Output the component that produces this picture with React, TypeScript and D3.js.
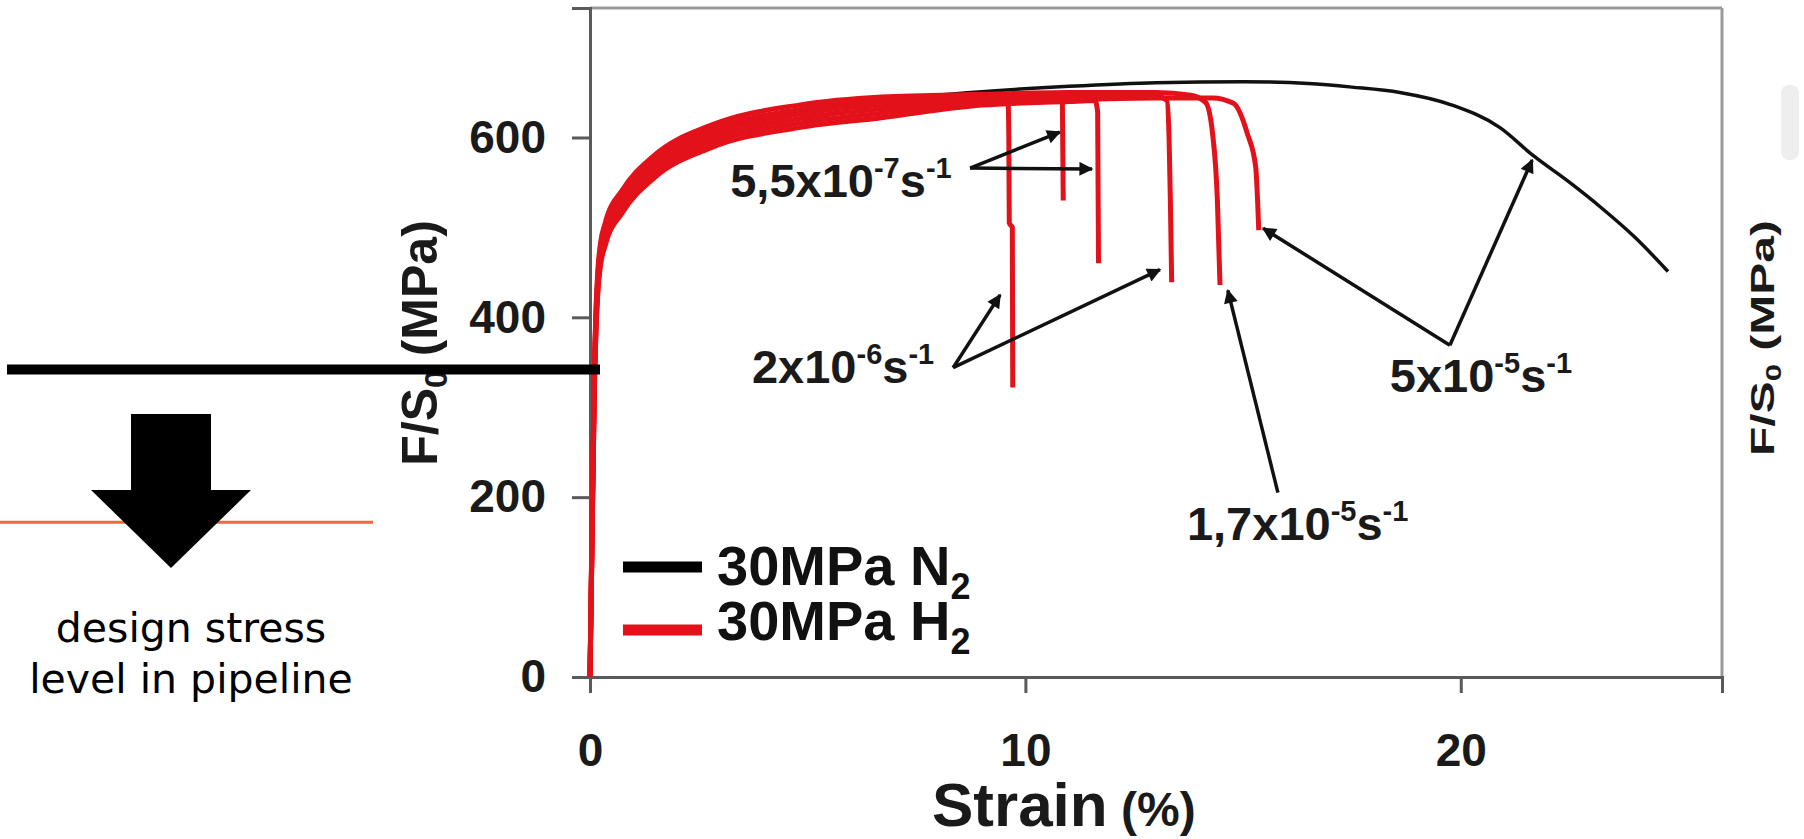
import { useRef, useEffect } from "react";
import * as d3 from "d3";

const WIDTH = 1804;
const HEIGHT = 839;
const RED = "#e3121a";
const FONT = "'Liberation Sans', Arial, Helvetica, sans-serif";

const strainTicks = [0, 10, 20];
const stressTicks = [0, 200, 400, 600];

// [strain %, F/S0 MPa]
const n2Curve = [
  [0, 0], [0.05, 176], [0.1, 336], [0.14, 406], [0.18, 446], [0.24, 476], [0.35, 499],
  [0.75, 536], [1.45, 573], [2.8, 607], [4.8, 629], [6.7, 641], [9, 651], [11, 657],
  [13, 661], [15, 662], [16.5, 660], [17.5, 656], [18.6, 650], [19.8, 636], [20.9, 611],
  [21.66, 580], [22.5, 550], [23.2, 523], [24, 489], [24.76, 451],
];

const h2Run1 = [
  [0, 0], [0.05, 167], [0.1, 327], [0.14, 397], [0.18, 437], [0.24, 467], [0.35, 490],
  [0.75, 527], [1.45, 564], [2.8, 599], [4.8, 621], [6.7, 632], [9, 641], [9.6, 643],
  [9.62, 600], [9.63, 505], [9.7, 500], [9.71, 322],
];
const h2Run2 = [
  [0, 0], [0.05, 177], [0.1, 337], [0.14, 407], [0.18, 447], [0.24, 477], [0.35, 500],
  [0.75, 537], [1.45, 574], [2.8, 609], [4.8, 631], [6.7, 641], [9, 646], [10.8, 648],
  [10.85, 638], [10.87, 530],
];
const h2Run3 = [
  [0, 0], [0.05, 157], [0.1, 317], [0.14, 387], [0.18, 427], [0.24, 457], [0.35, 480],
  [0.75, 517], [1.45, 554], [2.8, 589], [4.8, 611], [6.7, 622], [9, 636], [11, 640],
  [11.6, 641], [11.66, 628], [11.68, 460],
];
const h2Run4 = [
  [0, 0], [0.05, 172], [0.1, 332], [0.14, 402], [0.18, 442], [0.24, 472], [0.35, 495],
  [0.75, 532], [1.45, 569], [2.8, 604], [4.8, 626], [6.7, 637], [9, 643], [11, 645],
  [13, 646], [13.25, 641], [13.3, 600], [13.33, 530], [13.36, 439],
];
const h2Run5 = [
  [0, 0], [0.05, 182], [0.1, 342], [0.14, 412], [0.18, 452], [0.24, 482], [0.35, 505],
  [0.75, 542], [1.45, 579], [2.8, 614], [4.8, 636], [6.7, 645], [9, 648], [11, 650],
  [13, 650], [13.8, 647], [14.14, 639], [14.3, 604], [14.41, 530], [14.47, 436],
];
const h2Run6 = [
  [0, 0], [0.05, 162], [0.1, 322], [0.14, 392], [0.18, 432], [0.24, 462], [0.35, 485],
  [0.75, 522], [1.45, 559], [2.8, 594], [4.8, 616], [6.7, 627], [9, 639], [11, 642],
  [13, 644], [14.3, 644], [14.78, 638], [15.1, 604], [15.29, 567], [15.36, 497],
];
const h2Runs = [h2Run1, h2Run2, h2Run3, h2Run4, h2Run5, h2Run6];

// strain-rate annotations
const rateMantissas = ["5,5x10", "2x10", "1,7x10", "5x10"];
const rateExponents = ["-7", "-6", "-5", "-5"];
const rateLabelAt = [[3.22, 534], [3.72, 327], [13.71, 152], [18.37, 317]];
const rateArrowFrom = [[8.73, 566], [8.34, 344], [15.8, 205], [19.75, 369]];
const rateArrowTo = [
  [[10.79, 606], [11.53, 565]],
  [[9.42, 425], [13.09, 453]],
  [[14.65, 430]],
  [[21.64, 575], [15.46, 499]],
];

const legendLabels = ["30MPa N", "30MPa H"];
const legendColors = ["#000", RED];

const designStress = 342;
const pipelineLevel = 172;

const StressStrainChart = () => {
  const svgRef = useRef(null);

  useEffect(() => {
    const svg = d3.select(svgRef.current);
    svg.selectAll("*").remove();

    const x = d3.scaleLinear().domain([0, 26]).range([590, 1722]);
    const y = d3.scaleLinear().domain([0, 744]).range([677, 8]);

    svg
      .append("defs")
      .append("marker")
      .attr("id", "head")
      .attr("viewBox", "0 0 10 10")
      .attr("refX", 9)
      .attr("refY", 5)
      .attr("markerUnits", "userSpaceOnUse")
      .attr("markerWidth", 20)
      .attr("markerHeight", 14)
      .attr("orient", "auto")
      .append("path")
      .attr("d", "M0,0L10,5L0,10z")
      .attr("fill", "#111");

    // faint mark of the neighbouring panel
    svg.append("rect")
      .attr("x", 1781).attr("y", 85).attr("width", 18).attr("height", 75)
      .attr("rx", 8).attr("fill", "#eeeeee");

    // frame
    svg.append("line").attr("x1", x(0)).attr("x2", x(26)).attr("y1", y(744)).attr("y2", y(744))
      .attr("stroke", "#9a9a9a").attr("stroke-width", 3);
    svg.append("line").attr("x1", x(26)).attr("x2", x(26)).attr("y1", y(744)).attr("y2", y(0))
      .attr("stroke", "#9a9a9a").attr("stroke-width", 3);

    const yAxis = svg
      .append("g")
      .attr("transform", `translate(${x(0)},0)`)
      .call(d3.axisLeft(y).tickValues(stressTicks).tickSize(18).tickPadding(26));
    const xAxis = svg
      .append("g")
      .attr("transform", `translate(0,${y(0)})`)
      .call(d3.axisBottom(x).tickValues(strainTicks).tickSize(16).tickPadding(40));

    [yAxis, xAxis].forEach((ax) => {
      ax.select(".domain").attr("stroke", "#5a5a5a").attr("stroke-width", 3);
      ax.selectAll(".tick line").attr("stroke", "#5a5a5a").attr("stroke-width", 3);
      ax.selectAll("text")
        .style("font-family", FONT)
        .style("font-weight", "bold")
        .style("font-size", "46px")
        .style("fill", "#1a1a1a");
    });

    // curves
    const line = d3
      .line()
      .x((d) => x(d[0]))
      .y((d) => y(d[1]))
      .curve(d3.curveMonotoneX);

    svg.append("path")
      .datum(n2Curve)
      .attr("fill", "none")
      .attr("stroke", "#111")
      .attr("stroke-width", 3.5)
      .attr("d", line);

    svg.selectAll(".h2")
      .data(h2Runs)
      .enter()
      .append("path")
      .attr("class", "h2")
      .attr("fill", "none")
      .attr("stroke", RED)
      .attr("stroke-width", 5)
      .attr("d", line);

    // rate annotations
    rateMantissas.forEach((m, i) => {
      const t = svg
        .append("text")
        .attr("x", x(rateLabelAt[i][0]))
        .attr("y", y(rateLabelAt[i][1]))
        .style("font-family", FONT)
        .style("font-weight", "bold")
        .style("font-size", "47px")
        .style("fill", "#1a1a1a");
      t.append("tspan").text(m);
      t.append("tspan").attr("dy", -19).style("font-size", "29px").text(rateExponents[i]);
      t.append("tspan").attr("dy", 19).text("s");
      t.append("tspan").attr("dy", -19).style("font-size", "29px").text("-1");

      rateArrowTo[i].forEach((tip) => {
        svg.append("line")
          .attr("x1", x(rateArrowFrom[i][0]))
          .attr("y1", y(rateArrowFrom[i][1]))
          .attr("x2", x(tip[0]))
          .attr("y2", y(tip[1]))
          .attr("stroke", "#111")
          .attr("stroke-width", 3.5)
          .attr("marker-end", "url(#head)");
      });
    });

    // legend
    legendLabels.forEach((lab, i) => {
      const ly = 567 + i * 63;
      svg.append("line")
        .attr("x1", 623).attr("x2", 702).attr("y1", ly).attr("y2", ly)
        .attr("stroke", legendColors[i]).attr("stroke-width", 11);
      const t = svg
        .append("text")
        .attr("x", 717)
        .attr("y", 585 + i * 55)
        .style("font-family", FONT)
        .style("font-weight", "bold")
        .style("font-size", "56px")
        .style("fill", "#111");
      t.append("tspan").text(lab);
      t.append("tspan").attr("dy", 14).style("font-size", "36px").text("2");
    });

    // axis titles
    const yTitle = svg
      .append("text")
      .attr("transform", "translate(419,343) rotate(-90)")
      .attr("text-anchor", "middle")
      .attr("dy", "0.36em")
      .style("font-family", FONT)
      .style("font-weight", "bold")
      .style("font-size", "50px")
      .style("fill", "#1a1a1a");
    yTitle.append("tspan").text("F/S");
    yTitle.append("tspan").attr("dy", 10).style("font-size", "32px").text("0");
    yTitle.append("tspan").attr("dy", -10).text(" (MPa)");

    const yTitle2 = svg
      .append("text")
      .attr("transform", "translate(1762,338) rotate(-90) scale(1,0.7)")
      .attr("text-anchor", "middle")
      .attr("dy", "0.36em")
      .style("font-family", FONT)
      .style("font-weight", "bold")
      .style("font-size", "48px")
      .style("fill", "#1a1a1a");
    yTitle2.append("tspan").text("F/S");
    yTitle2.append("tspan").attr("dy", 10).style("font-size", "31px").text("0");
    yTitle2.append("tspan").attr("dy", -10).text(" (MPa)");

    const xTitle = svg
      .append("text")
      .attr("x", 932)
      .attr("y", 826)
      .style("font-family", FONT)
      .style("font-weight", "bold")
      .style("fill", "#1a1a1a");
    xTitle.append("tspan").style("font-size", "62px").text("Strain");
    xTitle.append("tspan").style("font-size", "48px").text(" (%)");

    // design stress overlay
    svg.append("line")
      .attr("x1", 0).attr("x2", 373)
      .attr("y1", y(pipelineLevel)).attr("y2", y(pipelineLevel))
      .attr("stroke", "#ec6a3e").attr("stroke-width", 3);
    svg.append("line")
      .attr("x1", 7).attr("x2", 600)
      .attr("y1", y(designStress)).attr("y2", y(designStress))
      .attr("stroke", "#000").attr("stroke-width", 10);
    svg.append("path")
      .attr("d", "M131,414H211V490H251L171,568L91,490H131Z")
      .attr("fill", "#000");

    const note = svg
      .append("text")
      .attr("text-anchor", "middle")
      .style("font-family", "'DejaVu Sans', Verdana, sans-serif")
      .style("font-size", "41px")
      .style("fill", "#000");
    note.append("tspan").attr("x", 191).attr("y", 642).text("design stress");
    note.append("tspan").attr("x", 191).attr("y", 693).text("level in pipeline");
  }, []);

  return (
    <svg
      ref={svgRef}
      width={WIDTH}
      height={HEIGHT}
      style={{ position: "absolute", left: 0, top: 0, background: "#fff" }}
    />
  );
};

export default function App() {
  return <StressStrainChart />;
}
